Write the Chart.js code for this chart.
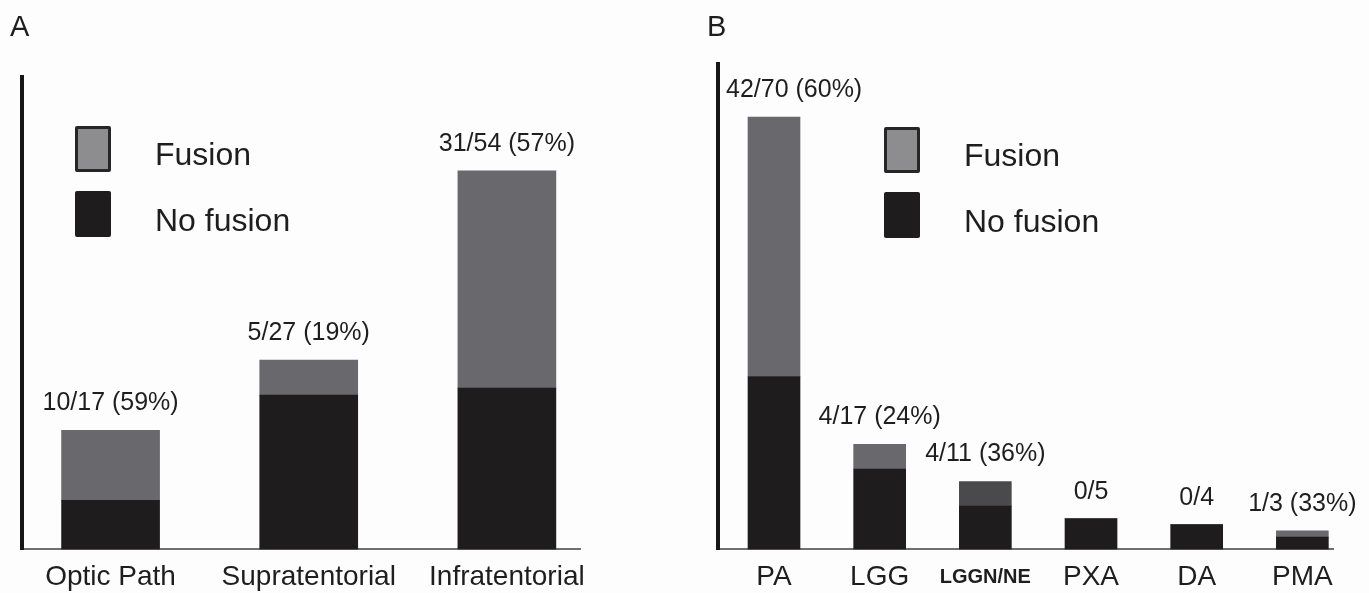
<!DOCTYPE html>
<html><head><meta charset="utf-8">
<script src="https://cdn.jsdelivr.net/npm/chart.js@4.4.1/dist/chart.umd.min.js"></script>
<style>
html,body{margin:0;padding:0;background:#fdfdfd;}
#wrap{position:relative;width:1369px;height:593px;overflow:hidden;font-family:"Liberation Sans",Arial,sans-serif;color:#1e1e1e;}
canvas{position:absolute;top:0;}
#cA{left:0;} #cB{left:685px;}
.panel{position:absolute;font-size:29px;line-height:29px;}
.lg{position:absolute;font-size:32px;line-height:32px;white-space:nowrap;}
.box{position:absolute;width:36px;height:46px;box-sizing:border-box;border-radius:2px;}
.bf{background:#8d8d8f;border:3px solid #262626;}
.bn{background:#1e1c1d;}
</style></head>
<body>
<div id="wrap">
  <canvas id="cA" width="685" height="593"></canvas>
  <canvas id="cB" width="684" height="593"></canvas>
  <div class="panel" style="left:10px;top:12px;">A</div>
  <div class="panel" style="left:707px;top:12px;">B</div>
  <div class="box bf" style="left:75px;top:126px;"></div>
  <div class="box bn" style="left:75px;top:191px;"></div>
  <div class="lg" style="left:155px;top:138px;">Fusion</div>
  <div class="lg" style="left:155px;top:204px;">No fusion</div>
  <div class="box bf" style="left:884px;top:127px;"></div>
  <div class="box bn" style="left:884px;top:192px;"></div>
  <div class="lg" style="left:964px;top:139px;">Fusion</div>
  <div class="lg" style="left:964px;top:205px;">No fusion</div>
</div>
<script>
// ---- Data ----
const regionCats = ['Optic Path', 'Supratentorial', 'Infratentorial'];
const regionFusion = [10, 5, 31];
const regionNoFusion = [7, 22, 23];

const histCats = ['PA', 'LGG', 'LGGN/NE', 'PXA', 'DA', 'PMA'];
const histFusion = [42, 4, 4, 0, 0, 1];
const histNoFusion = [28, 13, 7, 5, 4, 2];

// ---- Styles ----
const FONT = '"Liberation Sans", Arial, sans-serif';
const FUSION = '#69696d';
const FUSION_DARK = '#4a4a4c';
const NOFUSION = '#1e1c1d';

Chart.defaults.font.family = FONT;
Chart.defaults.color = '#1e1e1e';

const topLabels = {
  id: 'topLabels',
  afterDatasetsDraw(chart) {
    const {ctx, chartArea} = chart;
    const nof = chart.data.datasets[0].data;
    const fus = chart.data.datasets[1].data;
    const meta = chart.getDatasetMeta(1);
    ctx.save();
    ctx.font = '25px ' + FONT;
    ctx.fillStyle = '#1e1e1e';
    ctx.textBaseline = 'alphabetic';
    ctx.textAlign = 'left';
    meta.data.forEach((bar, i) => {
      const f = fus[i].y, t = f + nof[i].y;
      const txt = f > 0 ? `${f}/${t} (${Math.round(100 * f / t)}%)` : `${f}/${t}`;
      const w = ctx.measureText(txt).width;
      let x = Math.max(bar.x - w / 2, chartArea.left + 8);
      ctx.fillText(txt, x, bar.y - 20);
    });
    ctx.restore();
  }
};

function makeChart(id, cats, fusion, nofusion, fusionColors, cfg) {
  return new Chart(document.getElementById(id), {
    type: 'bar',
    data: {
      datasets: [
        { label: 'No fusion', data: nofusion.map((v, i) => ({x: i, y: v})),
          backgroundColor: NOFUSION, barThickness: cfg.bar, borderWidth: 0 },
        { label: 'Fusion', data: fusion.map((v, i) => ({x: i, y: v})),
          backgroundColor: fusionColors, barThickness: cfg.bar, borderWidth: 0 }
      ]
    },
    options: {
      responsive: false,
      animation: false,
      events: [],
      layout: { padding: cfg.pad },
      plugins: { legend: { display: false }, tooltip: { enabled: false } },
      scales: {
        x: {
          type: 'linear', stacked: true, offset: false, min: cfg.xmin, max: cfg.xmax,
          afterBuildTicks: sc => { sc.ticks = cats.map((_, i) => ({value: i})); },
          grid: { display: false, drawTicks: false, offset: false },
          border: { display: true, color: '#707070', width: 2 },
          ticks: {
            autoSkip: false, maxRotation: 0, padding: 11, color: '#1e1e1e',
            callback: v => cats[v],
            font: c => (c.tick && cats[c.tick.value] === 'LGGN/NE')
              ? { size: 20, weight: 'bold', lineHeight: 1.68 }
              : { size: 28, lineHeight: 1.2 }
          }
        },
        y: {
          stacked: true, min: 0, max: cfg.ymax,
          grid: { display: false, drawTicks: false },
          border: { display: true, color: '#161616', width: 4 },
          ticks: { display: false }
        }
      }
    },
    plugins: [topLabels]
  });
}

makeChart('cA', regionCats, regionFusion, regionNoFusion,
  regionCats.map(() => FUSION),
  { bar: 98, xmin: -0.447, xmax: 2.369, ymax: 67.4,
    pad: { left: 22, right: 105, top: 77, bottom: -12 } });

makeChart('cB', histCats, histFusion, histNoFusion,
  histCats.map(c => c === 'LGGN/NE' ? FUSION_DARK : FUSION),
  { bar: 52, xmin: -0.53, xmax: 5.29, ymax: 78.6,
    pad: { left: 33, right: 36, top: 64, bottom: -12 } });
</script>
</body></html>
